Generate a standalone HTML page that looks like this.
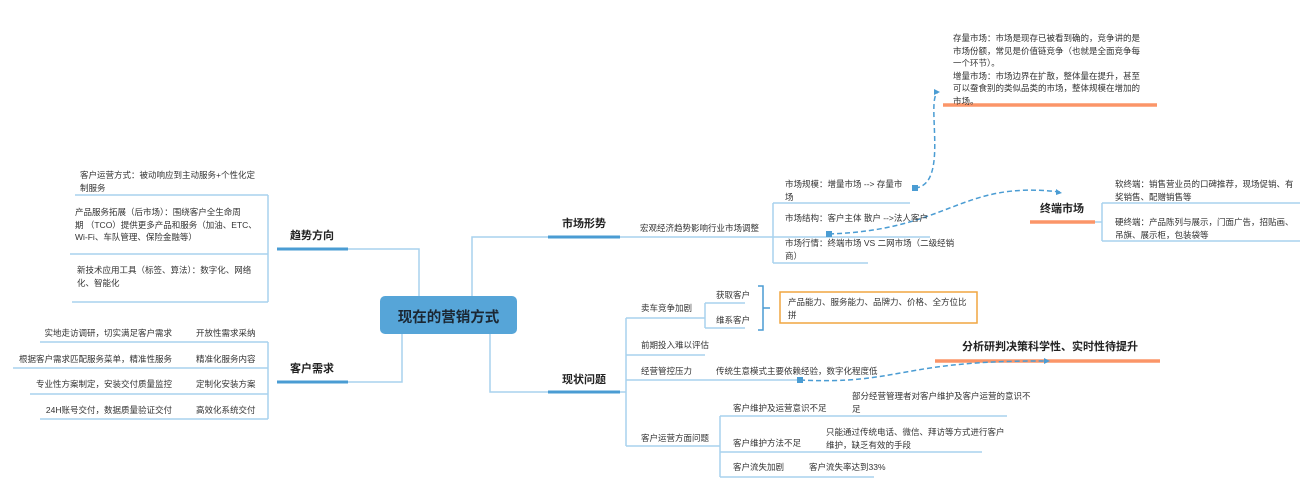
<!DOCTYPE html>
<html><head><meta charset="utf-8"><style>
body{margin:0;width:1303px;height:496px;background:#fff;position:relative;overflow:hidden;font-family:"Liberation Sans","Noto Sans CJK SC",sans-serif;color:#333}
.t{position:absolute;font-size:8.5px;line-height:12.5px;white-space:nowrap}
.h{position:absolute;font-size:11px;font-weight:bold;color:#222;white-space:nowrap}
svg{position:absolute;left:0;top:0}
</style></head><body>
<svg width="1303" height="496">
<g stroke="#a8d2ee" stroke-width="1.5" fill="none">
<path d="M419 296V249H348"/><path d="M402 334V382H348"/>
<path d="M472 296V237H548"/><path d="M490 334V392H548"/>
<path d="M268 195V302M75 195H268M70 254H268M72 302H268"/>
<path d="M268 342V419M40 342H268M13 368H268M30 394H268M40 419H268"/>
<path d="M620 237H773M773 203V263M773 203H910M773 237H930M773 263H868"/>
<path d="M1095 222H1102M1102 203V241M1102 203H1300M1102 241H1300"/>
<path d="M620 392H626M626 318V446M626 318H705M626 355H705M626 380H800M626 446H712"/>
<path d="M705 303V328M705 303H745M705 328H745"/>
<path d="M720 416V477M712 446H720M720 416H1007M720 452H982M720 477H874"/>
</g>
<g stroke="#4a9cd3" stroke-width="3"><path d="M277 249H348M277 382H348M548 237H620M548 392H620"/></g>
<path d="M758 286H763V330H758M763 308H770" stroke="#4a9cd3" stroke-width="1.5" fill="none"/>
<rect x="780" y="292" width="197" height="31" fill="none" stroke="#f0a640" stroke-width="1.5"/>
<g stroke="#fb9568" stroke-width="3.5"><path d="M943 105H1157M1030 222H1095M935 361H1160"/></g>
<g stroke="#4a9cd3" stroke-width="1.5" fill="none" stroke-dasharray="5,3">
<path d="M915 188C950 185 925 100 938 92"/>
<path d="M829 234C950 230 960 180 1060 192"/>
<path d="M800 380C900 385 900 360 1048 361"/>
</g>
<g fill="#4a9cd3">
<rect x="912" y="185" width="6" height="6"/><rect x="826" y="231" width="6" height="6"/><rect x="797" y="377" width="6" height="6"/>
<path d="M940 92l-6-3v6z"/><path d="M1062 193l-6-4v6z"/><path d="M1050 361l-6-3v6z"/>
</g>
<rect x="380" y="296" width="137" height="38" rx="5" fill="#56a5d8"/>
</svg>
<div class="h" style="left:380px;top:306px;width:137px;text-align:center;font-size:14.5px;color:#1b2733">现在的营销方式</div>
<div class="h" style="left:290px;top:227px">趋势方向</div>
<div class="h" style="left:290px;top:360px">客户需求</div>
<div class="h" style="left:562px;top:215px">市场形势</div>
<div class="h" style="left:562px;top:371px">现状问题</div>
<div class="h" style="left:1040px;top:200px">终端市场</div>
<div class="h" style="left:962px;top:338px">分析研判决策科学性、实时性待提升</div>
<div class="t" style="left:80px;top:169px">客户运营方式：被动响应到主动服务+个性化定<br>制服务</div>
<div class="t" style="left:75px;top:206px">产品服务拓展（后市场）：围绕客户全生命周<br>期 （TCO）提供更多产品和服务（加油、ETC、<br>Wi-Fi、车队管理、保险金融等）</div>
<div class="t" style="left:77px;top:264px">新技术应用工具（标签、算法）：数字化、网络<br>化、智能化</div>
<div class="t" style="left:0;top:327px;width:172px;text-align:right">实地走访调研，切实满足客户需求</div>
<div class="t" style="left:0;top:353px;width:172px;text-align:right">根据客户需求匹配服务菜单，精准性服务</div>
<div class="t" style="left:0;top:378px;width:172px;text-align:right">专业性方案制定，安装交付质量监控</div>
<div class="t" style="left:0;top:404px;width:172px;text-align:right">24H账号交付，数据质量验证交付</div>
<div class="t" style="left:196px;top:327px">开放性需求采纳</div>
<div class="t" style="left:196px;top:353px">精准化服务内容</div>
<div class="t" style="left:196px;top:378px">定制化安装方案</div>
<div class="t" style="left:196px;top:404px">高效化系统交付</div>
<div class="t" style="left:640px;top:222px">宏观经济趋势影响行业市场调整</div>
<div class="t" style="left:785px;top:178px">市场规模：增量市场 --&gt; 存量市<br>场</div>
<div class="t" style="left:785px;top:212px">市场结构：客户主体 散户 --&gt;法人客户</div>
<div class="t" style="left:785px;top:237px">市场行情：终端市场 VS 二网市场（二级经销<br>商）</div>
<div class="t" style="left:953px;top:32px">存量市场：市场是现存已被看到确的，竞争讲的是<br>市场份额，常见是价值链竞争（也就是全面竞争每<br>一个环节）。<br>增量市场：市场边界在扩散，整体量在提升，甚至<br>可以蚕食别的类似品类的市场，整体规模在增加的<br>市场。</div>
<div class="t" style="left:1115px;top:178px">软终端：销售营业员的口碑推荐，现场促销、有<br>奖销售、配赠销售等</div>
<div class="t" style="left:1115px;top:216px">硬终端：产品陈列与展示，门面广告，招贴画、<br>吊旗、展示柜，包装袋等</div>
<div class="t" style="left:641px;top:302px">卖车竞争加剧</div>
<div class="t" style="left:716px;top:289px">获取客户</div>
<div class="t" style="left:716px;top:314px">维系客户</div>
<div class="t" style="left:788px;top:296px">产品能力、服务能力、品牌力、价格、全方位比<br>拼</div>
<div class="t" style="left:641px;top:339px">前期投入难以评估</div>
<div class="t" style="left:641px;top:365px">经营管控压力</div>
<div class="t" style="left:716px;top:365px">传统生意模式主要依赖经验，数字化程度低</div>
<div class="t" style="left:641px;top:432px">客户运营方面问题</div>
<div class="t" style="left:733px;top:402px">客户维护及运营意识不足</div>
<div class="t" style="left:852px;top:390px">部分经营管理者对客户维护及客户运营的意识不<br>足</div>
<div class="t" style="left:733px;top:437px">客户维护方法不足</div>
<div class="t" style="left:826px;top:426px">只能通过传统电话、微信、拜访等方式进行客户<br>维护，缺乏有效的手段</div>
<div class="t" style="left:733px;top:461px">客户流失加剧</div>
<div class="t" style="left:809px;top:461px">客户流失率达到33%</div>
</body></html>
